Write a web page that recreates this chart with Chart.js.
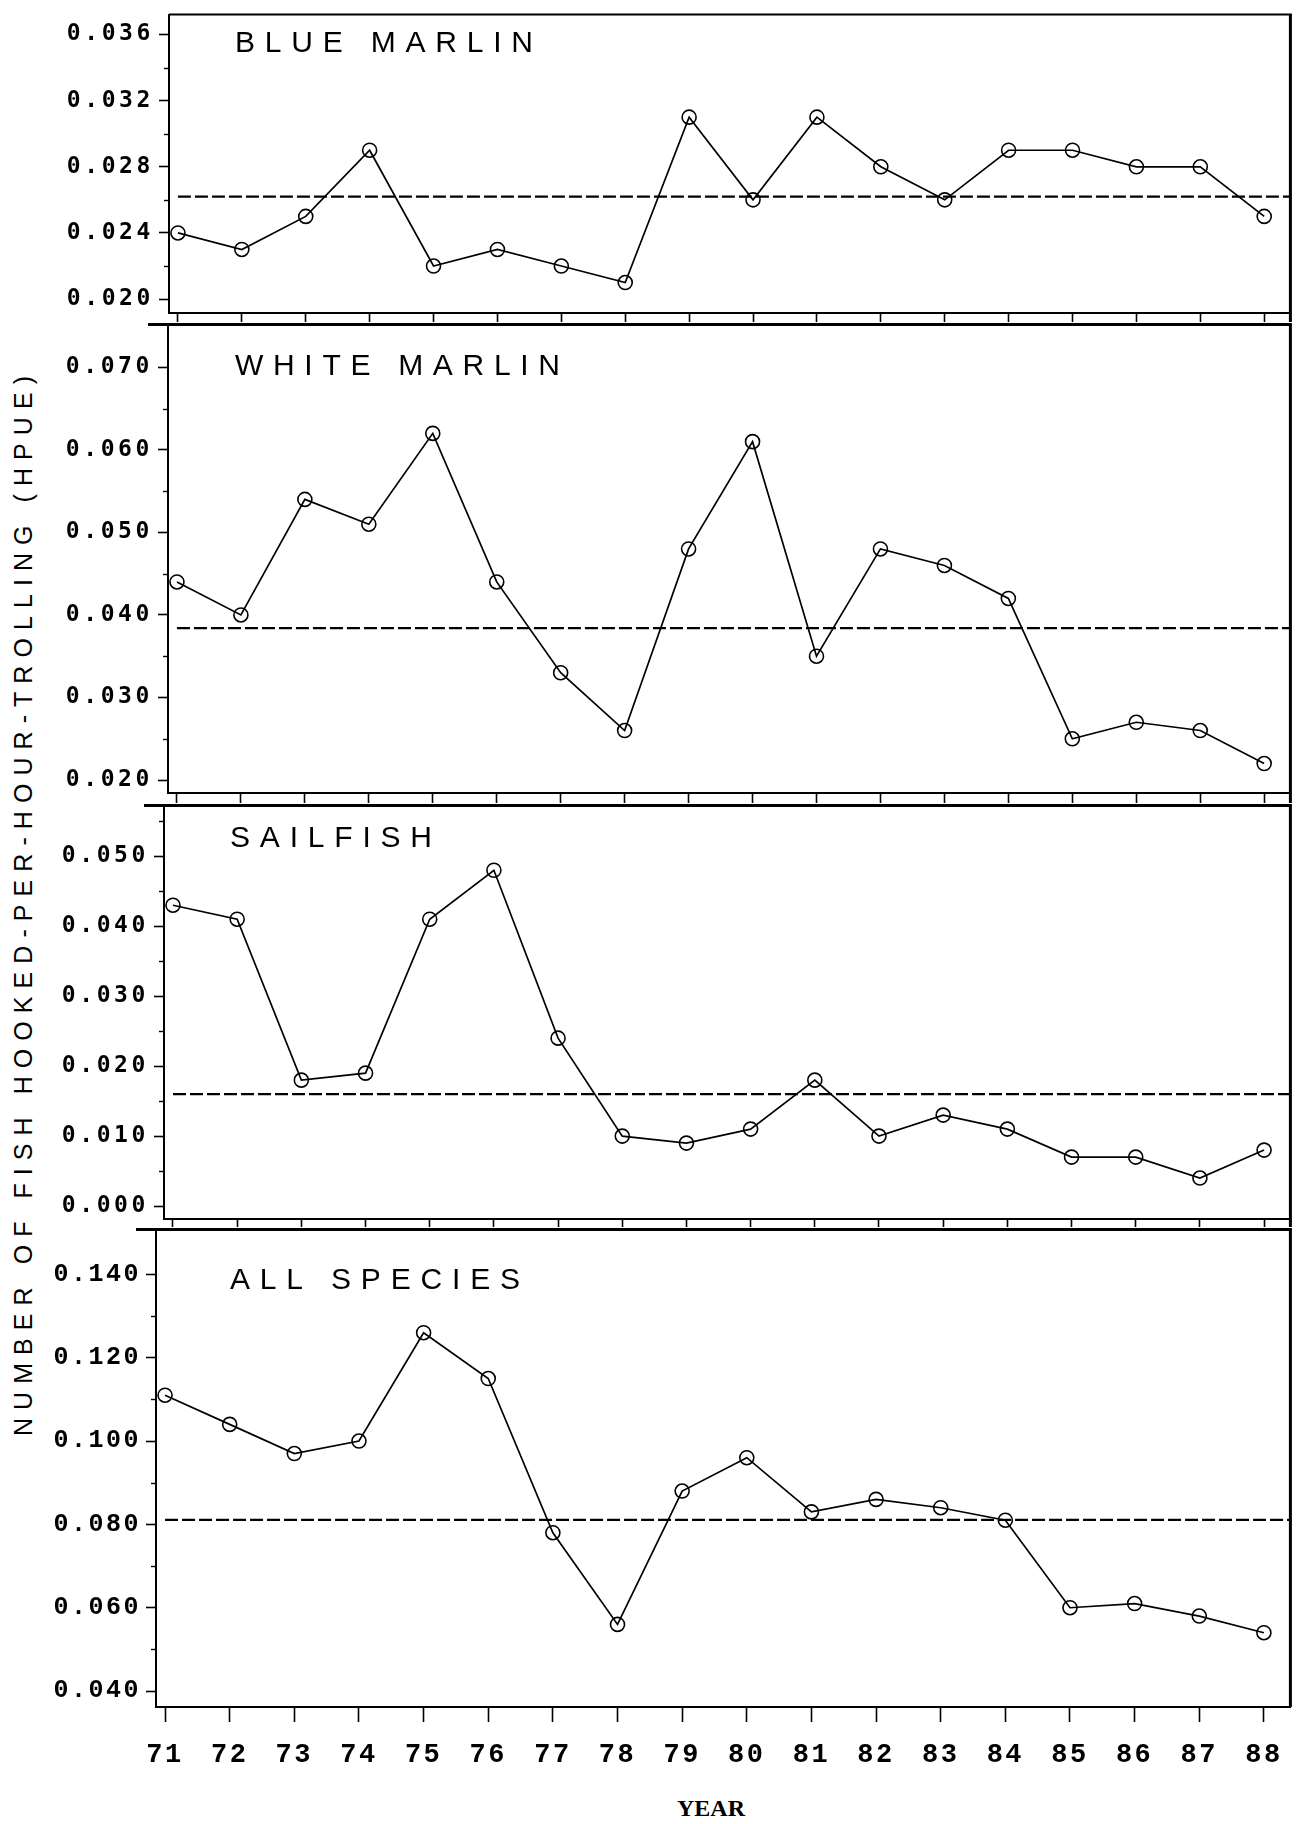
<!DOCTYPE html>
<html>
<head>
<meta charset="utf-8">
<script src="https://cdn.jsdelivr.net/npm/chart.js@4.4.0/dist/chart.umd.min.js"></script>
<style>
  html, body { margin: 0; padding: 0; background: #fff; }
  #page { position: relative; width: 1299px; height: 1824px; overflow: hidden; background: #fff; }
  #page canvas { position: absolute; left: 0; }
  .label { position: absolute; white-space: nowrap; color: #000; line-height: 1; }
  #ytitle { font-family: "Liberation Sans", sans-serif; font-size: 25px;
            transform: translate(-50%, -50%) rotate(-90deg); }
  #xtitle { font-family: "Liberation Serif", serif; font-weight: bold; font-size: 24px;
            transform: translate(-50%, -50%); }
</style>
</head>
<body>
<div id="page">
  <div id="ytitle" class="label">NUMBER OF FISH HOOKED-PER-HOUR-TROLLING (HPUE)</div>
  <div id="xtitle" class="label">YEAR</div>
</div>
<script>
// ─── data ─────────────────────────────────────────────
const years = [71, 72, 73, 74, 75, 76, 77, 78, 79, 80, 81, 82, 83, 84, 85, 86, 87, 88];

const blueMarlin  = [0.024, 0.023, 0.025, 0.029, 0.022, 0.023, 0.022, 0.021, 0.031,
                     0.026, 0.031, 0.028, 0.026, 0.029, 0.029, 0.028, 0.028, 0.025];
const whiteMarlin = [0.044, 0.040, 0.054, 0.051, 0.062, 0.044, 0.033, 0.026, 0.048,
                     0.061, 0.035, 0.048, 0.046, 0.042, 0.025, 0.027, 0.026, 0.022];
const sailfish    = [0.043, 0.041, 0.018, 0.019, 0.041, 0.048, 0.024, 0.010, 0.009,
                     0.011, 0.018, 0.010, 0.013, 0.011, 0.007, 0.007, 0.004, 0.008];
const allSpecies  = [0.111, 0.104, 0.097, 0.100, 0.126, 0.115, 0.078, 0.056, 0.088,
                     0.096, 0.083, 0.086, 0.084, 0.081, 0.060, 0.061, 0.058, 0.054];

// dashed reference line (period mean) per panel
const means = [0.0262, 0.0384, 0.0160, 0.0811];

const panelTitles = ['BLUE MARLIN', 'WHITE MARLIN', 'SAILFISH', 'ALL SPECIES'];

// labelled y ticks and unlabelled minor ticks per panel
const bmTicks = ['0.020', '0.024', '0.028', '0.032', '0.036'];
const wmTicks = ['0.020', '0.030', '0.040', '0.050', '0.060', '0.070'];
const sfTicks = ['0.000', '0.010', '0.020', '0.030', '0.040', '0.050'];
const asTicks = ['0.040', '0.060', '0.080', '0.100', '0.120', '0.140'];
const bmMinor = [0.022, 0.026, 0.030, 0.034];
const wmMinor = [0.025, 0.035, 0.045, 0.055, 0.065];
const sfMinor = [0.005, 0.015, 0.025, 0.035, 0.045, 0.055];
const asMinor = [0.050, 0.070, 0.090, 0.110, 0.130];

// axis ranges
const X_MIN = 70.86, X_MAX = 88.41;
const yRanges = [[0.01916, 0.03720], [0.01843, 0.07518], [-0.00185, 0.05724], [0.03618, 0.15074]];

// ─── layout (pixels) ──────────────────────────────────
const PAGE_W = 1299;
const Y_AXIS_W = 150;
const FRAME_RIGHT = 1294;
const PAD_TOP = 6;

const layout = [
  { top: 12,   bottom: 313,  left: 169, xAxisH: 9,  tickLen: 9,  topW: 2, topExt: 0,
    titleY: 44,   titleW: 298, titleDx: 66 },
  { top: 322,  bottom: 793,  left: 168, xAxisH: 10, tickLen: 10, topW: 3, topExt: 20,
    titleY: 367,  titleW: 325, titleDx: 67 },
  { top: 803,  bottom: 1219, left: 164, xAxisH: 8,  tickLen: 8,  topW: 3, topExt: 20,
    titleY: 839,  titleW: 202, titleDx: 66 },
  { top: 1227, bottom: 1707, left: 156, xAxisH: 80, tickLen: 15, topW: 3, topExt: 20,
    titleY: 1281, titleW: 290, titleDx: 74 }
];

const series = [blueMarlin, whiteMarlin, sailfish, allSpecies];
const tickSets = [bmTicks, wmTicks, sfTicks, asTicks];
const minorSets = [bmMinor, wmMinor, sfMinor, asMinor];

// ─── frame / minor ticks / panel title ───────────────
const panelFrame = {
  id: 'panelFrame',
  beforeDraw(chart, args, opts) {
    chart.ctx.letterSpacing = opts.tickSpacing + 'px';
  },
  afterDraw(chart, args, opts) {
    const { ctx, chartArea: a } = chart;
    const y = chart.scales.y;
    ctx.save();
    ctx.letterSpacing = '0px';
    ctx.strokeStyle = '#000';
    ctx.lineCap = 'butt';

    ctx.lineWidth = opts.topW;
    ctx.beginPath();
    ctx.moveTo(a.left - opts.topExt, a.top);
    ctx.lineTo(a.right + 1.5, a.top);
    ctx.stroke();

    ctx.lineWidth = 3;
    ctx.beginPath();
    ctx.moveTo(a.right, a.top);
    ctx.lineTo(a.right, a.bottom + opts.rightExt);
    ctx.stroke();

    ctx.lineWidth = 1.4;
    opts.minor.forEach(v => {
      const py = Math.round(y.getPixelForValue(v)) + 0.5;
      ctx.beginPath();
      ctx.moveTo(a.left - 5, py);
      ctx.lineTo(a.left, py);
      ctx.stroke();
    });

    ctx.fillStyle = '#000';
    ctx.font = '30px "Liberation Sans"';
    const w = ctx.measureText(opts.title).width;
    const ls = (opts.titleW - w) / (opts.title.length - 1);
    ctx.letterSpacing = ls + 'px';
    ctx.textAlign = 'left';
    ctx.textBaseline = 'middle';
    ctx.fillText(opts.title, a.left + opts.titleDx, opts.titleY);
    ctx.restore();
    ctx.letterSpacing = '0px';
  }
};

function makePanel(i) {
  const p = layout[i];
  const last = i === layout.length - 1;
  const labels = tickSets[i];
  const canvas = document.createElement('canvas');
  const h = PAD_TOP + (p.bottom - p.top) + p.xAxisH + 4;
  canvas.width = PAGE_W;
  canvas.height = h;
  canvas.style.top = (p.top - PAD_TOP) + 'px';
  document.getElementById('page').appendChild(canvas);

  const yFont = last
    ? { family: '"Liberation Mono"', size: 25, weight: 'bold' }
    : { family: '"DejaVu Sans Mono"', size: 23, weight: 'bold' };

  return new Chart(canvas, {
    type: 'line',
    data: {
      datasets: [
        {
          data: years.map((yr, k) => ({ x: yr, y: series[i][k] })),
          borderColor: '#000',
          borderWidth: 1.7,
          tension: 0,
          pointRadius: 7,
          pointBorderWidth: 1.6,
          pointBorderColor: '#000',
          pointBackgroundColor: 'rgba(0,0,0,0)'
        },
        {
          data: [{ x: years[0], y: means[i] }, { x: X_MAX, y: means[i] }],
          borderColor: '#000',
          borderWidth: 2.3,
          borderDash: [13, 4],
          pointRadius: 0
        }
      ]
    },
    options: {
      responsive: false,
      animation: false,
      devicePixelRatio: 1,
      events: [],
      layout: { padding: { top: PAD_TOP, bottom: 4, left: p.left - Y_AXIS_W, right: PAGE_W - FRAME_RIGHT } },
      plugins: {
        legend: { display: false },
        tooltip: { enabled: false },
        panelFrame: {
          topW: p.topW, topExt: p.topExt, rightExt: last ? 0 : p.tickLen,
          minor: minorSets[i], title: panelTitles[i], titleW: p.titleW,
          titleDx: p.titleDx, titleY: p.titleY - p.top + PAD_TOP,
          tickSpacing: last ? 2.5 : 3.6
        }
      },
      scales: {
        x: {
          type: 'linear',
          min: X_MIN,
          max: X_MAX,
          afterBuildTicks: s => { s.ticks = years.map(v => ({ value: v })); },
          afterFit: s => { s.height = p.xAxisH; s.paddingLeft = 0; s.paddingRight = 0; },
          border: { display: true, color: '#000', width: 2 },
          grid: { drawOnChartArea: false, drawTicks: true, tickLength: p.tickLen, tickWidth: 1.6, tickColor: '#000' },
          ticks: {
            display: last,
            autoSkip: false,
            maxRotation: 0,
            padding: 17,
            color: '#000',
            font: { family: '"Liberation Mono"', size: 27, weight: 'bold' },
            callback: (v, idx) => String(years[idx])
          }
        },
        y: {
          type: 'linear',
          min: yRanges[i][0],
          max: yRanges[i][1],
          afterBuildTicks: s => { s.ticks = labels.map(t => ({ value: parseFloat(t) })); },
          afterFit: s => { s.width = Y_AXIS_W; s.paddingTop = 0; s.paddingBottom = 0; },
          border: { display: true, color: '#000', width: 2 },
          grid: { drawOnChartArea: false, drawTicks: true, tickLength: 10, tickWidth: 1.6, tickColor: '#000' },
          ticks: {
            autoSkip: false,
            padding: 5,
            color: '#000',
            font: yFont,
            callback: (v, idx) => labels[idx]
          }
        }
      }
    },
    plugins: [panelFrame]
  });
}

layout.forEach((p, i) => makePanel(i));

// ─── axis titles (html text) ─────────────────────────
function fitSpacing(el, target) {
  const c = document.createElement('canvas').getContext('2d');
  const cs = getComputedStyle(el);
  c.font = cs.fontWeight + ' ' + cs.fontSize + ' ' + cs.fontFamily;
  const txt = el.textContent;
  const w = c.measureText(txt).width;
  el.style.letterSpacing = ((target - w) / (txt.length - 1)) + 'px';
}
const yt = document.getElementById('ytitle');
fitSpacing(yt, 1060);
yt.style.left = '23px';
yt.style.top = '902px';
const xt = document.getElementById('xtitle');
xt.style.left = '711px';
xt.style.top = '1808px';
</script>
</body>
</html>
